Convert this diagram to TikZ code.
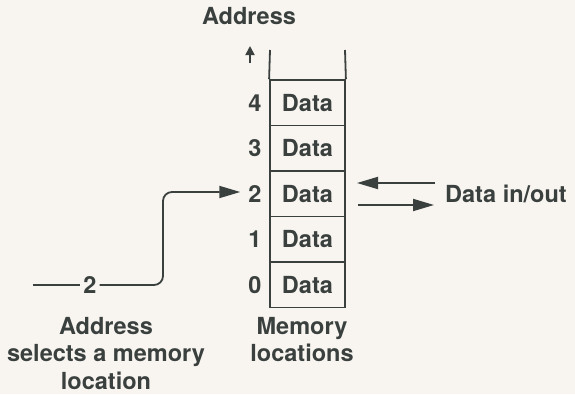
\documentclass[tikz,border=0pt]{standalone}
\usepackage{fontspec}
\setmainfont{TeX Gyre Heros}
\usetikzlibrary{arrows.meta}
\definecolor{bg}{RGB}{248,245,241}
\definecolor{ink}{RGB}{58,64,62}
\tikzset{
  lbl/.style={font=\bfseries\fontsize{23.5}{27.5}\selectfont, text=ink, inner sep=0pt},
  cell/.style={draw=ink, line width=1.8pt, minimum width=75pt, minimum height=45.5pt, inner sep=0pt, lbl},
  wire/.style={draw=ink, line width=1.8pt},
  tip/.style={-{Triangle[length=21pt,width=12pt]}},
}
\begin{document}
\begin{tikzpicture}[x=1pt,y=-1pt]
\fill[bg] (0,0) rectangle (575,394);
\useasboundingbox (0,0) rectangle (575,394);
% memory cells
\foreach \i/\yc in {4/102.75,3/148.25,2/193.75,1/239.25,0/284.75}{
  \node[cell] (c\i) at (307.5,\yc) {Data};
  \node[lbl, anchor=center] (n\i) at (255,\yc) {\i};
}
\coordinate (tl) at (270,50);
\coordinate (tr) at (345,50);
\draw[wire] (tl) -- (c4.north west);
\draw[wire] (tr) -- (c4.north east);
% top label
\node[lbl] (addr) at (249,16) {Address};
\coordinate (ua) at (250,63);
\coordinate (ub) at (250,46);
\draw[wire, line width=1.8pt, -{Triangle[length=9pt,width=9pt]}] (ua) -- (ub);
% address input path
\coordinate (s) at (33,285);
\node[lbl] (two) at (90,285) {2};
\draw[wire] (s) -- ([xshift=-3pt]two.west);
\draw[wire, tip, rounded corners=9pt] ([xshift=3pt]two.east) -- (163,285) -- (163,192) -- ([xshift=-8pt]n2.west |- 0,192);
% data in/out
\coordinate (ia) at (435,183);
\coordinate (ib) at (357,183);
\coordinate (oa) at (358,205);
\coordinate (ob) at (434,205);
\draw[wire, tip] (ia) -- (ib);
\draw[wire, tip] (oa) -- (ob);
\node[lbl, anchor=west] (dio) at (445,194) {Data in/out};
% bottom labels
\node[lbl, align=center, anchor=north] (asel) at (106,317) {Address\\selects a memory\\location};
\node[lbl, align=center, anchor=north] (mloc) at (302,317) {Memory\\locations};
\end{tikzpicture}
\end{document}
